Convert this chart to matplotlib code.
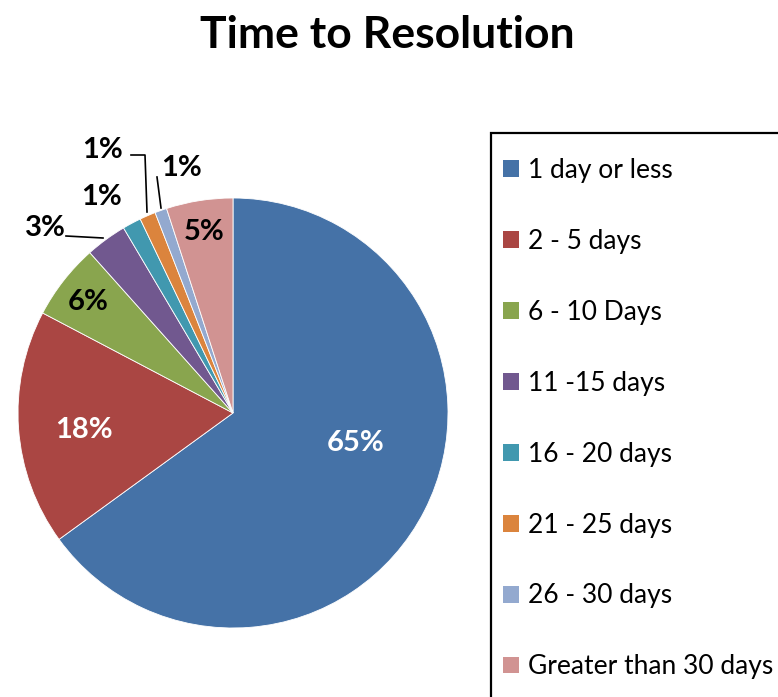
import numpy as np
from matplotlib import pyplot as plt
from matplotlib.patches import Rectangle

categories = ['1 day or less', '2 - 5 days', '6 - 10 Days', '11 -15 days',
              '16 - 20 days', '21 - 25 days', '26 - 30 days', 'Greater than 30 days']
shares = [65.0, 17.7, 5.7, 3.1, 1.4, 1.2, 0.9, 5.0]
pct_labels = ['65%', '18%', '6%', '3%', '1%', '1%', '1%', '5%']
colors = ['#4572A7', '#AA4643', '#89A54E', '#71588F',
          '#4198AF', '#DB843D', '#93A9CF', '#D19392']

W, H = 778, 697
fig = plt.figure(figsize=(W / 100, H / 100), dpi=100)
plt.rcParams['font.family'] = ['Lato', 'DejaVu Sans']

# pie centre (233, 413) px, radius 215 px
cx, cy, r = 233, 413, 215
ax = fig.add_axes([(cx - r) / W, (H - cy - r) / H, 2 * r / W, 2 * r / H])
wedges, _ = ax.pie(
    shares,
    colors=colors,
    startangle=90,
    counterclock=False,
    radius=1,
    wedgeprops=dict(edgecolor='white', linewidth=0.6),
)
ax.set_xlim(-1, 1)
ax.set_ylim(-1, 1)
ax.set_aspect('equal')
ax.axis('off')


def px(x, y):
    # pixel position -> data coords of the pie axes
    return (x - cx) / r, (cy - y) / r


# label positions (pixels) for each slice
label_pos = [(356, 443), (84, 430), (88, 302), (45, 228),
             (102, 197), (103, 150), (182, 168), (204, 232)]
label_col = ['white', 'white', 'black', 'black',
             'black', 'black', 'black', 'black']
for txt, pos, col in zip(pct_labels, label_pos, label_col):
    x, y = px(*pos)
    ax.text(x, y, txt, color=col, fontsize=21, fontweight='bold',
            ha='center', va='center', clip_on=False)

# leader lines
leaders = [
    [(66, 236), (103, 238)],
    [(131, 155), (145, 155), (147, 212)],
    [(157, 177), (161, 208)],
]
for pts in leaders:
    xs, ys = zip(*[px(*p) for p in pts])
    ax.plot(xs, ys, color='black', linewidth=1.2, clip_on=False)

fig.text(387 / W, 1 - 35 / H, 'Time to Resolution', fontsize=32,
         fontweight='bold', ha='center', va='center')

# legend, box runs off the right and bottom edges
fig.add_artist(Rectangle((491 / W, -0.05), 0.5, 1 - 133 / H + 0.05,
                         transform=fig.transFigure, fill=False,
                         edgecolor='black', linewidth=1.6))
leg = fig.legend(wedges, categories, loc='upper left',
                 bbox_to_anchor=(503 / W, 1 - 158 / H), frameon=False,
                 fontsize=19, labelspacing=1.74, handlelength=0.6,
                 handleheight=0.6, handletextpad=0.35, borderpad=0,
                 borderaxespad=0)
for h in leg.legend_handles:
    h.set_edgecolor('none')

fig.savefig('out.png', dpi=100)
